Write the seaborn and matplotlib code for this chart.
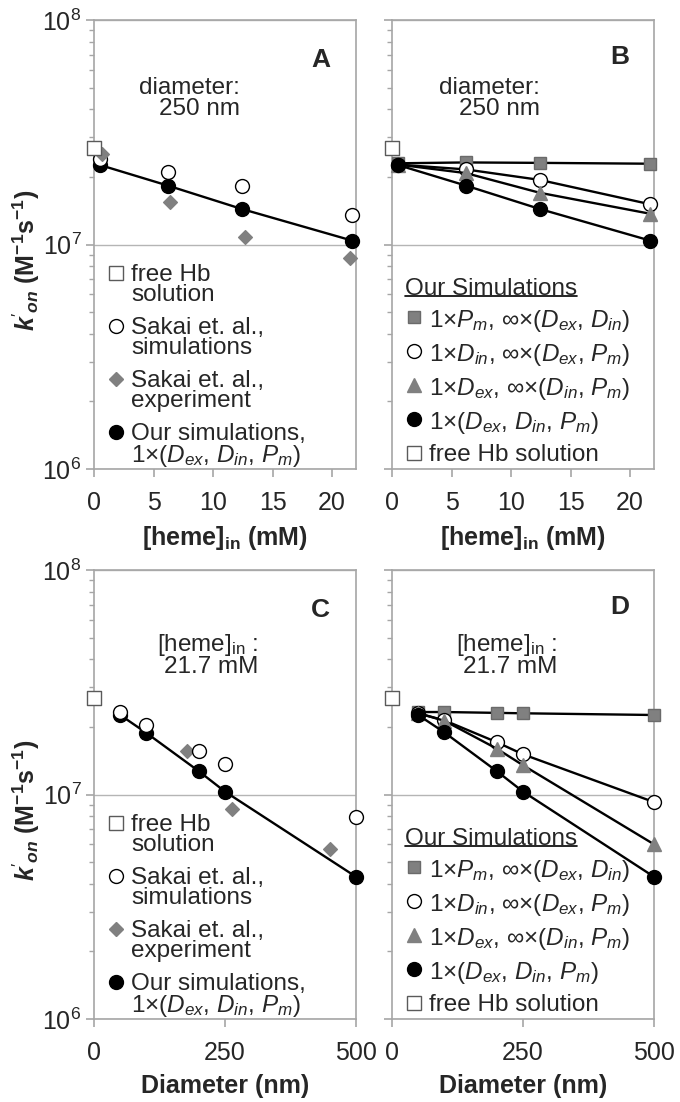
import numpy as np
import matplotlib
matplotlib.use("Agg")
import matplotlib.pyplot as plt
import seaborn as sns
from matplotlib.lines import Line2D
from matplotlib.ticker import FixedLocator, LogLocator, NullFormatter

# ---------------- data ----------------
# x positions
heme_sim = [0.5, 6.2, 12.4, 21.7]        # [heme]_in (mM) of the simulated vesicles
heme_exp = [0.65, 6.4, 12.7, 21.5]       # [heme]_in (mM) of the Sakai et al. experiments
diam_sim = [50, 100, 200, 250, 500]      # vesicle diameter (nm)
diam_exp = [177, 264, 450]               # diameters of the Sakai et al. experiments

free_hb = 2.7e7                          # free Hb solution (M^-1 s^-1)

# Panel A: diameter 250 nm
a_ours = [2.26e7, 1.83e7, 1.44e7, 1.04e7]
a_sakai_sim = [2.40e7, 2.10e7, 1.83e7, 1.35e7]
a_sakai_exp = [2.52e7, 1.55e7, 1.08e7, 8.7e6]

# Panel B: diameter 250 nm, single-resistance cases
b_pm = [2.30e7, 2.32e7, 2.31e7, 2.29e7]
b_din = [2.27e7, 2.16e7, 1.94e7, 1.51e7]
b_dex = [2.27e7, 2.08e7, 1.70e7, 1.37e7]
b_all = [2.26e7, 1.83e7, 1.44e7, 1.04e7]

# Panel C: [heme]_in 21.7 mM
c_ours = [2.26e7, 1.88e7, 1.27e7, 1.03e7, 4.3e6]
c_sakai_sim = [2.33e7, 2.05e7, 1.56e7, 1.37e7, 7.9e6]
c_sakai_exp = [1.56e7, 8.6e6, 5.7e6]

# Panel D: [heme]_in 21.7 mM, single-resistance cases
d_pm = [2.33e7, 2.33e7, 2.31e7, 2.30e7, 2.26e7]
d_din = [2.30e7, 2.14e7, 1.71e7, 1.51e7, 9.25e6]
d_dex = [2.30e7, 2.13e7, 1.60e7, 1.35e7, 6.0e6]
d_all = [2.26e7, 1.89e7, 1.27e7, 1.03e7, 4.3e6]

heme_ticks = [0, 5, 10, 15, 20]
diam_ticks = [0, 250, 500]

# ---------------- style ----------------
sns.set_style("ticks")
plt.rcParams["font.family"] = ["Liberation Sans", "DejaVu Sans"]
plt.rcParams["mathtext.fontset"] = "custom"
plt.rcParams["mathtext.rm"] = "Liberation Sans"
plt.rcParams["mathtext.it"] = "Liberation Sans:italic"
plt.rcParams["mathtext.bf"] = "Liberation Sans:bold"
plt.rcParams["mathtext.bfit"] = "Liberation Sans:bold:italic"

GRAY = "#808080"
SPINE = "#a6a6a6"
FS_TICK = 18
FS_TEXT = 17.5

fig = plt.figure(figsize=(6.8, 11.02), dpi=100)
W, H = 680, 1102


def add_ax(x0, y_top, x1, y_bot):
    return fig.add_axes([x0 / W, 1 - y_bot / H, (x1 - x0) / W, (y_bot - y_top) / H])


axA = add_ax(94, 20, 356, 469)
axB = add_ax(392, 20, 654, 469)
axC = add_ax(94, 570, 356, 1019)
axD = add_ax(392, 570, 654, 1019)


def style_axes(ax, left, xticks, xmax):
    ax.set_yscale("log")
    ax.set_ylim(1e6, 1e8)
    ax.set_xlim(0, xmax)
    ax.xaxis.set_major_locator(FixedLocator(xticks))
    ax.yaxis.set_major_locator(FixedLocator([1e6, 1e7, 1e8]))
    ax.yaxis.set_minor_locator(LogLocator(base=10, subs=np.arange(2, 10)))
    ax.yaxis.set_minor_formatter(NullFormatter())
    for s in ax.spines.values():
        s.set_color(SPINE)
        s.set_linewidth(1.2)
    ax.tick_params(axis="both", which="major", direction="out", length=6,
                   width=1.2, color=SPINE, labelsize=FS_TICK)
    ax.tick_params(axis="x", which="major", pad=10)
    ax.tick_params(axis="y", which="major", pad=3)
    ax.tick_params(axis="y", which="minor", direction="out", length=3.5,
                   width=1, color=SPINE)
    ax.grid(axis="y", which="major", color="#b5b5b5", lw=1)
    ax.set_axisbelow(True)
    if left:
        ax.set_ylabel(r"$\mathbfit{k}'_{\mathbfit{on}}$ (M$^{\mathbf{-1}}$s$^{\mathbf{-1}}$)",
                      fontsize=FS_TICK, fontweight="bold")
        ax.yaxis.set_label_coords(-0.2, 0.465)
    else:
        ax.tick_params(axis="y", labelleft=False)


def line_series(ax, x, y, marker, ms, fc, ec, z):
    sns.lineplot(x=x, y=y, ax=ax, color="black", lw=1.7, marker=marker,
                 markersize=ms, markerfacecolor=fc, markeredgecolor=ec,
                 markeredgewidth=1, clip_on=False, zorder=z, legend=False,
                 errorbar=None, sort=False)


def points(ax, x, y, marker, ms, fc, ec, z):
    sns.scatterplot(x=x, y=y, ax=ax, marker=marker, s=ms ** 2, color=fc,
                    edgecolor=ec, linewidth=1, clip_on=False, zorder=z,
                    legend=False)


def proxy(marker, ms, fc, ec):
    return Line2D([], [], ls="none", marker=marker, markersize=ms,
                  markerfacecolor=fc, markeredgecolor=ec, markeredgewidth=1)


def make_legend(ax, handles, labels, anchor, spacing, title=None):
    leg = ax.legend(handles=handles, labels=labels, loc="lower left",
                    bbox_to_anchor=anchor, frameon=False, fontsize=FS_TEXT,
                    handlelength=0.75, handleheight=0.9, handletextpad=0.25,
                    labelspacing=spacing, borderpad=0, borderaxespad=0,
                    title=title, title_fontsize=FS_TEXT, alignment="left")
    for t in leg.get_texts():
        t.set_linespacing(0.9)
    for col in leg._legend_handle_box.get_children():
        for item in col.get_children():
            item.align = "top"
    return leg


h_free = proxy("s", 10, "white", "#5a5a5a")
h_ssim = proxy("o", 10, "white", "black")
h_sexp = proxy("D", 7, GRAY, GRAY)
h_ours = proxy("o", 10, "black", "black")
h_pm = proxy("s", 9, GRAY, "#6a6a6a")
h_tri = proxy("^", 10, GRAY, GRAY)

lab_ours = "Our simulations,\n1\u00d7($D_{ex}$, $D_{in}$, $P_{m}$)"
labels_left = ["free Hb\nsolution", "Sakai et. al.,\nsimulations",
               "Sakai et. al.,\nexperiment", lab_ours]
labels_right = ["1\u00d7$P_{m}$, \u221e\u00d7($D_{ex}$, $D_{in}$)",
                "1\u00d7$D_{in}$, \u221e\u00d7($D_{ex}$, $P_{m}$)",
                "1\u00d7$D_{ex}$, \u221e\u00d7($D_{in}$, $P_{m}$)",
                "1\u00d7($D_{ex}$, $D_{in}$, $P_{m}$)",
                "free Hb solution"]

XL_PAD = 6

# ---------------- panel A ----------------
style_axes(axA, True, heme_ticks, 22)
line_series(axA, heme_sim, a_ours, "o", 10, "black", "black", 3)
points(axA, heme_sim, a_sakai_sim, "o", 10, "white", "black", 4)
points(axA, heme_exp, a_sakai_exp, "D", 7, GRAY, GRAY, 5)
points(axA, [0], [free_hb], "s", 10.5, "white", "#5a5a5a", 6)
axA.set_xlabel(r"$\mathbf{[heme]_{in}}$ (mM)", fontsize=FS_TICK, fontweight="bold", labelpad=XL_PAD)
make_legend(axA, [h_free, h_ssim, h_sexp, h_ours], labels_left, (0.05, 0.0), 0.44)
axA.text(0.557, 0.826, "diameter:\n250 nm", transform=axA.transAxes, ha="right",
         va="center", multialignment="right", fontsize=FS_TEXT, linespacing=0.95)
axA.text(0.865, 0.911, "A", transform=axA.transAxes, ha="center", va="center",
         fontsize=19, fontweight="bold")

# ---------------- panel B ----------------
style_axes(axB, False, heme_ticks, 22)
line_series(axB, heme_sim, b_pm, "s", 9, GRAY, "#6a6a6a", 3)
line_series(axB, heme_sim, b_din, "o", 10, "white", "black", 4)
line_series(axB, heme_sim, b_dex, "^", 10, GRAY, GRAY, 5)
line_series(axB, heme_sim, b_all, "o", 10, "black", "black", 6)
points(axB, [0], [free_hb], "s", 10.5, "white", "#5a5a5a", 7)
axB.set_xlabel(r"$\mathbf{[heme]_{in}}$ (mM)", fontsize=FS_TICK, fontweight="bold", labelpad=XL_PAD)
legB = make_legend(axB, [h_pm, h_ssim, h_tri, h_ours, h_free], labels_right,
                   (0.05, 0.0075), 0.33, title="Our Simulations")
axB.text(0.565, 0.826, "diameter:\n250 nm", transform=axB.transAxes, ha="right",
         va="center", multialignment="right", fontsize=FS_TEXT, linespacing=0.95)
axB.text(0.87, 0.918, "B", transform=axB.transAxes, ha="center", va="center",
         fontsize=19, fontweight="bold")

# ---------------- panel C ----------------
style_axes(axC, True, diam_ticks, 500)
line_series(axC, diam_sim, c_ours, "o", 10, "black", "black", 3)
points(axC, diam_exp, c_sakai_exp, "D", 7, GRAY, GRAY, 4)
points(axC, diam_sim, c_sakai_sim, "o", 10, "white", "black", 5)
points(axC, [0], [free_hb], "s", 10.5, "white", "#5a5a5a", 6)
axC.set_xlabel("Diameter (nm)", fontsize=FS_TICK, fontweight="bold", labelpad=XL_PAD)
make_legend(axC, [h_free, h_ssim, h_sexp, h_ours], labels_left, (0.05, 0.0), 0.44)
axC.text(0.626, 0.811, "[heme]$_{\\mathrm{in}}$ :\n21.7 mM", transform=axC.transAxes,
         ha="right", va="center", multialignment="right", fontsize=FS_TEXT,
         linespacing=0.85)
axC.text(0.865, 0.911, "C", transform=axC.transAxes, ha="center", va="center",
         fontsize=19, fontweight="bold")

# ---------------- panel D ----------------
style_axes(axD, False, diam_ticks, 500)
line_series(axD, diam_sim, d_pm, "s", 9, GRAY, "#6a6a6a", 3)
line_series(axD, diam_sim, d_din, "o", 10, "white", "black", 4)
line_series(axD, diam_sim, d_dex, "^", 10, GRAY, GRAY, 5)
line_series(axD, diam_sim, d_all, "o", 10, "black", "black", 6)
points(axD, [0], [free_hb], "s", 10.5, "white", "#5a5a5a", 7)
axD.set_xlabel("Diameter (nm)", fontsize=FS_TICK, fontweight="bold", labelpad=XL_PAD)
legD = make_legend(axD, [h_pm, h_ssim, h_tri, h_ours, h_free], labels_right,
                   (0.05, 0.0075), 0.33, title="Our Simulations")
axD.text(0.63, 0.811, "[heme]$_{\\mathrm{in}}$ :\n21.7 mM", transform=axD.transAxes,
         ha="right", va="center", multialignment="right", fontsize=FS_TEXT,
         linespacing=0.85)
axD.text(0.87, 0.918, "D", transform=axD.transAxes, ha="center", va="center",
         fontsize=19, fontweight="bold")

# underline the legend titles
fig.canvas.draw()
inv = fig.transFigure.inverted()
for leg in (legB, legD):
    bb = leg.get_title().get_window_extent()
    (fx0, fy), (fx1, _) = inv.transform([[bb.x0, bb.y0 + 3.5], [bb.x1, bb.y0 + 3.5]])
    fig.add_artist(Line2D([fx0, fx1], [fy, fy], transform=fig.transFigure,
                          color="black", lw=1.2))

fig.savefig("out.png", dpi=100)
